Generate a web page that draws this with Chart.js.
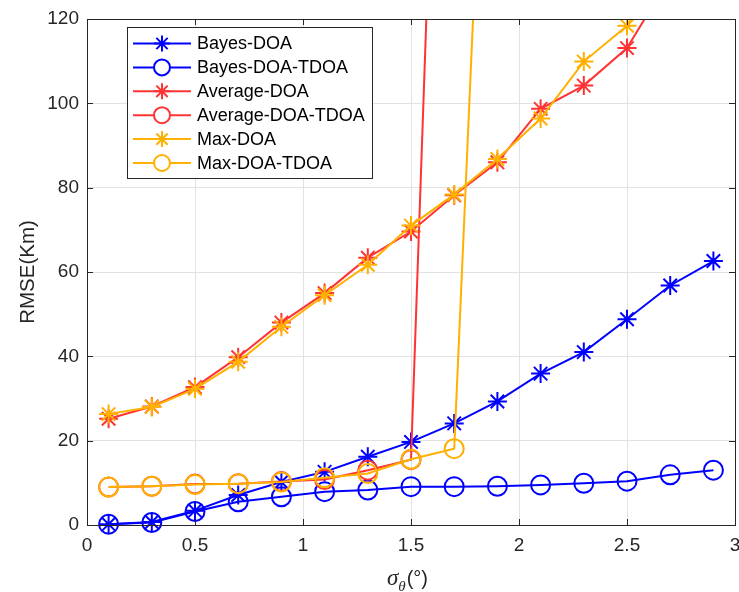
<!DOCTYPE html>
<html>
<head>
<meta charset="utf-8">
<script src="https://cdn.jsdelivr.net/npm/chart.js@4.4.0/dist/chart.umd.min.js"></script>
<style>
  html, body { margin: 0; padding: 0; background: #fff; }
  #wrap { width: 739px; height: 592px; position: relative; }
</style>
</head>
<body>
<div id="wrap"><canvas id="c"></canvas></div>
<script>
// --- dati ---
const sigmaVals = [0.1, 0.3, 0.5, 0.7, 0.9, 1.1, 1.3, 1.5, 1.7, 1.9, 2.1, 2.3, 2.5, 2.7, 2.9];
const bayesDoa = [0.2, 0.7, 3.4, 7.1, 10.2, 12.6, 16.2, 19.7, 24.1, 29.3, 35.9, 41.0, 48.8, 56.8, 62.6];
const bayesDoaTdoa = [0.2, 0.6, 3.2, 5.5, 6.7, 7.9, 8.3, 9.1, 9.1, 9.2, 9.5, 9.9, 10.4, 11.9, 13.0];
const averageDoa = [25.2, 28.1, 32.7, 39.8, 48.0, 55.0, 63.4, 69.6, 78.2, 86.0, 98.7, 104.2, 113.1, 130, 148];
const averageDoaTdoa = [9.0, 9.2, 9.7, 9.8, 10.3, 10.8, 13.0, 15.5, 310];
const maxDoa = [26.3, 28.0, 32.3, 38.7, 47.0, 54.5, 61.7, 71.0, 78.4, 86.8, 96.4, 109.9, 118.4, 136, 152];
const maxDoaTdoa = [9.0, 9.2, 9.6, 9.8, 10.2, 11.2, 12.2, 15.6, 18.1, 252];

const seriesNames = ['Bayes-DOA', 'Bayes-DOA-TDOA', 'Average-DOA', 'Average-DOA-TDOA', 'Max-DOA', 'Max-DOA-TDOA'];
const seriesValues = [bayesDoa, bayesDoaTdoa, averageDoa, averageDoaTdoa, maxDoa, maxDoaTdoa];
const seriesColors = ['#0000ff', '#0000ff', '#ff3333', '#ff3333', '#ffb000', '#ffb000'];
const seriesMarkers = ['star', 'circle', 'star', 'circle', 'star', 'circle'];

const xTicks = [0, 0.5, 1, 1.5, 2, 2.5, 3];
const yTicks = [0, 20, 40, 60, 80, 100, 120];

const AXIS_COLOR = '#262626';
const SANS = '"Liberation Sans", Arial, sans-serif';

const datasets = seriesNames.map((name, i) => ({
  label: name,
  data: seriesValues[i].map((v, k) => ({ x: sigmaVals[k], y: v })),
  borderColor: seriesColors[i],
  backgroundColor: 'rgba(0,0,0,0)',
  borderWidth: 2,
  pointStyle: seriesMarkers[i],
  pointRadius: 9.5,
  pointHoverRadius: 9.5,
  pointBorderWidth: 2,
  pointBorderColor: seriesColors[i],
  pointBackgroundColor: 'rgba(0,0,0,0)',
  tension: 0,
  order: seriesNames.length - i,   // ultima serie disegnata sopra (come MATLAB)
  clip: { left: 15, right: 15, top: 0, bottom: 15 }
}));

// riquadro, tacche interne, legenda e titoli degli assi
const decorPlugin = {
  id: 'decor',
  afterDatasetsDraw(chart) {
    const { ctx, chartArea: a, scales } = chart;
    ctx.save();
    // box
    ctx.strokeStyle = AXIS_COLOR;
    ctx.lineWidth = 1;
    ctx.strokeRect(Math.round(a.left) + 0.5, Math.round(a.top) + 0.5, Math.round(a.right - a.left), Math.round(a.bottom - a.top));
    // tacche
    const tl = 6;
    ctx.beginPath();
    xTicks.forEach(t => {
      const px = Math.round(scales.x.getPixelForValue(t)) + 0.5;
      ctx.moveTo(px, a.bottom); ctx.lineTo(px, a.bottom - tl);
      ctx.moveTo(px, a.top); ctx.lineTo(px, a.top + tl);
    });
    yTicks.forEach(t => {
      const py = Math.round(scales.y.getPixelForValue(t)) + 0.5;
      ctx.moveTo(a.left, py); ctx.lineTo(a.left + tl, py);
      ctx.moveTo(a.right, py); ctx.lineTo(a.right - tl, py);
    });
    ctx.stroke();

    // legenda
    const lx = 127, ly = 27, lw = 245, lh = 151;
    ctx.fillStyle = '#fff';
    ctx.fillRect(lx, ly, lw, lh);
    ctx.strokeStyle = AXIS_COLOR;
    ctx.strokeRect(lx + 0.5, ly + 0.5, lw, lh);
    seriesNames.forEach((name, i) => {
      const y = 43.5 + i * 23.9;
      ctx.strokeStyle = seriesColors[i];
      ctx.lineWidth = 2;
      ctx.beginPath();
      ctx.moveTo(133, y); ctx.lineTo(191, y);
      ctx.stroke();
      ctx.fillStyle = '#fff';
      Chart.helpers.drawPoint(ctx, { pointStyle: seriesMarkers[i], radius: 8, borderWidth: 2, rotation: 0 }, 162, y);
      ctx.fillStyle = '#000';
      ctx.font = '18px ' + SANS;
      ctx.textBaseline = 'middle';
      ctx.textAlign = 'left';
      ctx.fillText(name, 197, y + 1);
    });

    // titolo asse y
    ctx.fillStyle = AXIS_COLOR;
    ctx.font = '20.5px ' + SANS;
    ctx.translate(28, 272);
    ctx.rotate(-Math.PI / 2);
    ctx.textAlign = 'center';
    ctx.textBaseline = 'middle';
    ctx.fillText('RMSE(Km)', 0, 0);
    ctx.restore();

    // titolo asse x: sigma_theta(°)
    ctx.save();
    ctx.fillStyle = AXIS_COLOR;
    ctx.textBaseline = 'alphabetic';
    ctx.textAlign = 'left';
    let x = 387;
    const base = 585;
    ctx.font = 'italic 23px "Liberation Serif", "Times New Roman", serif';
    ctx.fillText('\u03c3', x, base);
    x += ctx.measureText('\u03c3').width;
    ctx.font = 'italic 15px "Liberation Serif", "Times New Roman", serif';
    ctx.fillText('\u03b8', x, base + 6);
    x += ctx.measureText('\u03b8').width + 1;
    ctx.font = '20px ' + SANS;
    ctx.fillText('(\u00b0)', x, base);
    ctx.restore();
  }
};

new Chart(document.getElementById('c'), {
  type: 'line',
  data: { datasets },
  options: {
    responsive: true,
    maintainAspectRatio: false,
    animation: false,
    events: [],
    layout: { autoPadding: false, padding: { left: 0, right: 4, top: 19, bottom: 0 } },
    plugins: { legend: { display: false }, tooltip: { enabled: false } },
    scales: {
      x: {
        type: 'linear',
        min: 0, max: 3,
        afterBuildTicks: s => { s.ticks = xTicks.map(v => ({ value: v })); },
        afterFit: s => { s.height = 67; s.paddingLeft = 0; s.paddingRight = 0; },
        ticks: { color: AXIS_COLOR, font: { family: SANS, size: 19 }, padding: 9, maxRotation: 0, callback: v => String(v) },
        grid: { color: '#e2e2e2', lineWidth: 1, drawTicks: false },
        border: { display: false }
      },
      y: {
        type: 'linear',
        min: 0, max: 120,
        afterBuildTicks: s => { s.ticks = yTicks.map(v => ({ value: v })); },
        afterFit: s => { s.width = 87; s.paddingTop = 0; s.paddingBottom = 0; },
        ticks: { color: AXIS_COLOR, font: { family: SANS, size: 19 }, padding: 8, callback: v => String(v) },
        grid: { color: '#e2e2e2', lineWidth: 1, drawTicks: false },
        border: { display: false }
      }
    }
  },
  plugins: [decorPlugin]
});
</script>
</body>
</html>
